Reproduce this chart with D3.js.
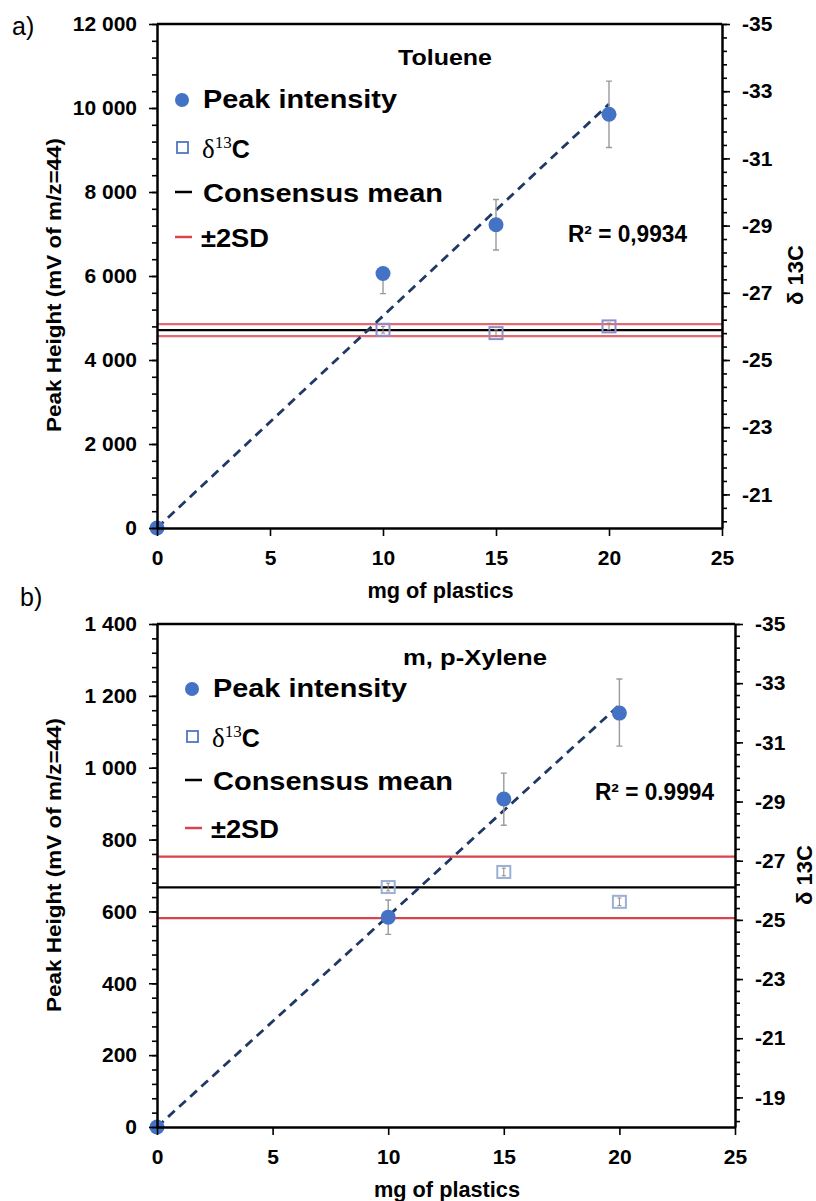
<!DOCTYPE html>
<meta charset="utf-8">
<style>
body { margin: 0; background: #fff; }
svg text { font-family: "Liberation Sans", Arial, sans-serif; fill: #000; }
.axis path.domain { stroke: #000; stroke-width: 2.5px; }
.axis line { stroke: #000; stroke-width: 1.6px; }
.axis text { font-size: 21px; font-weight: bold; }
</style>
<body>
<script src="https://cdn.jsdelivr.net/npm/d3@7"></script>
<script>
// x positions (mg of plastics)
var massMg = [0, 10, 15, 20];
var isoMass = [10, 15, 20];
var xTicks = [0, 5, 10, 15, 20, 25];

// a) Toluene
var toluenePeak = [0, 6060, 7220, 9850];
var toluenePeakErrUp = [0, 0, 600, 790];
var toluenePeakErrDown = [0, 480, 600, 790];
var tolueneD13C = [-25.9, -25.8, -26.0];
var tolueneD13CErr = [0.1, 0.1, 0.1];
var tolueneMean = -25.89;
var tolueneSD2 = 0.18;

// b) m, p-Xylene
var xylenePeak = [0, 584, 913, 1152];
var xylenePeakErrUp = [0, 48, 72, 95];
var xylenePeakErrDown = [0, 48, 73, 92];
var xyleneD13C = [-26.11, -26.62, -25.61];
var xyleneD13CErr = [0.13, 0.13, 0.13];
var xyleneMean = -26.1;
var xyleneSD2 = 1.04;

var fmt = d3.formatLocale({decimal: ",", thousands: " ", grouping: [3], currency: ["", ""]}).format(",d");

var svg = d3.select("body").append("svg")
    .attr("width", 816)
    .attr("height", 1201);

function drawPanel(p) {
  var x = d3.scaleLinear().domain([0, 25]).range([p.left, p.right]);
  var y = d3.scaleLinear().domain([0, p.yMax]).range([p.bottom, p.top]);
  var y2 = d3.scaleLinear().domain([p.y2Min, -35]).range([p.bottom, p.top]);

  var g = svg.append("g");

  // top frame line
  g.append("line")
      .attr("x1", p.left).attr("x2", p.right)
      .attr("y1", p.top).attr("y2", p.top)
      .attr("stroke", "#000").attr("stroke-width", 2.5);

  // consensus mean and +-2SD
  var lines = [
    {v: p.mean - p.sd2, c: p.red},
    {v: p.mean + p.sd2, c: p.red},
    {v: p.mean, c: "#000"}
  ];
  g.selectAll(".hl").data(lines).enter().append("line")
      .attr("x1", p.left).attr("x2", p.right)
      .attr("y1", function(d) { return y2(d.v); })
      .attr("y2", function(d) { return y2(d.v); })
      .attr("stroke", function(d) { return d.c; })
      .attr("stroke-width", 2.2);

  // d13C squares with small error bars
  var iso = p.iso.map(function(v, i) { return {m: isoMass[i], v: v, e: p.isoErr[i]}; });
  var ig = g.selectAll(".iso").data(iso).enter().append("g");
  ig.append("rect")
      .attr("x", function(d) { return x(d.m) - 6.5; })
      .attr("y", function(d) { return y2(d.v) - 6; })
      .attr("width", 13).attr("height", 12)
      .attr("fill", "none")
      .attr("stroke", p.squareColor)
      .attr("stroke-width", 2);
  ig.append("path")
      .attr("d", function(d) {
        var cx = x(d.m), a = y2(d.v - d.e), b = y2(d.v + d.e);
        return "M" + cx + "," + a + "V" + b + "M" + (cx - 2) + "," + a + "H" + (cx + 2) + "M" + (cx - 2) + "," + b + "H" + (cx + 2);
      })
      .attr("stroke", "#888").attr("stroke-width", 1).attr("fill", "none");

  // linear trend through origin, fitted on the peak data
  var sxy = d3.sum(massMg, function(m, i) { return m * p.peak[i]; });
  var sxx = d3.sum(massMg, function(m) { return m * m; });
  var slope = sxy / sxx;
  var xEnd = d3.max(massMg);
  g.append("line")
      .attr("x1", x(0)).attr("y1", y(0))
      .attr("x2", x(xEnd)).attr("y2", y(slope * xEnd))
      .attr("stroke", "#1f3864")
      .attr("stroke-width", 2.8)
      .attr("stroke-dasharray", "9,6");

  // peak intensity error bars
  var pk = massMg.map(function(m, i) {
    return {m: m, v: p.peak[i], up: p.errUp[i], dn: p.errDown[i]};
  });
  g.selectAll(".eb").data(pk.filter(function(d) { return d.up + d.dn > 0; }))
    .enter().append("path")
      .attr("d", function(d) {
        var cx = x(d.m), a = y(d.v + d.up), b = y(d.v - d.dn);
        var s = "M" + cx + "," + a + "V" + b;
        if (d.up > 0) s += "M" + (cx - 3) + "," + a + "H" + (cx + 3);
        if (d.dn > 0) s += "M" + (cx - 3) + "," + b + "H" + (cx + 3);
        return s;
      })
      .attr("stroke", "#9a9a9a").attr("stroke-width", 1.4).attr("fill", "none");

  g.selectAll(".dot").data(pk).enter().append("circle")
      .attr("cx", function(d) { return x(d.m); })
      .attr("cy", function(d) { return y(d.v); })
      .attr("r", 7.5)
      .attr("fill", "#4472c4");

  // axes
  g.append("g").attr("class", "axis")
      .attr("transform", "translate(" + p.left + ",0)")
      .call(d3.axisLeft(y).tickValues(d3.range(0, p.yMax + 1, p.yMinor)).tickSize(5).tickSizeOuter(0).tickFormat(""))
      .select(".domain").remove();
  g.append("g").attr("class", "axis")
      .attr("transform", "translate(" + p.left + ",0)")
      .call(d3.axisLeft(y).tickValues(d3.range(0, p.yMax + 1, p.yStep)).tickSize(8).tickPadding(12).tickSizeOuter(0).tickFormat(fmt));

  var nMinor = Math.floor((p.y2Min + 35) / 0.4 + 0.001);
  g.append("g").attr("class", "axis")
      .attr("transform", "translate(" + p.right + ",0)")
      .call(d3.axisRight(y2).tickValues(d3.range(0, nMinor + 1).map(function(k) { return -35 + k * 0.4; }))
        .tickSize(5).tickSizeOuter(0).tickFormat(""))
      .select(".domain").remove();
  g.append("g").attr("class", "axis")
      .attr("transform", "translate(" + p.right + ",0)")
      .call(d3.axisRight(y2).tickValues(p.y2Ticks).tickSize(8).tickPadding(12).tickSizeOuter(0)
        .tickFormat(function(d) { return String(d); }));

  g.append("g").attr("class", "axis")
      .attr("transform", "translate(0," + p.bottom + ")")
      .call(d3.axisBottom(x).tickValues(xTicks).tickSize(8).tickPadding(14).tickSizeOuter(0));

  // titles
  g.append("text")
      .attr("x", (p.left + p.right) / 2 + 1).attr("y", p.bottom + 70)
      .attr("text-anchor", "middle")
      .attr("font-size", 22).attr("font-weight", "bold")
      .attr("textLength", 146).attr("lengthAdjust", "spacingAndGlyphs")
      .text("mg of plastics");
  g.append("text")
      .attr("transform", "translate(61," + p.yTitle + ") rotate(-90)")
      .attr("text-anchor", "middle")
      .attr("font-size", 21).attr("font-weight", "bold")
      .attr("textLength", 294).attr("lengthAdjust", "spacingAndGlyphs")
      .text("Peak Height (mV of m/z=44)");
  g.append("text")
      .attr("transform", "translate(" + p.y2TitleX + "," + p.y2Title + ") rotate(-90)")
      .attr("text-anchor", "middle")
      .attr("font-size", 22).attr("font-weight", "bold")
      .text("δ 13C");

  g.append("text")
      .attr("x", p.nameX).attr("y", p.nameY)
      .attr("text-anchor", "middle")
      .attr("font-size", 22).attr("font-weight", "bold")
      .attr("textLength", p.nameW).attr("lengthAdjust", "spacingAndGlyphs")
      .text(p.name);

  g.append("text")
      .attr("x", p.r2X).attr("y", p.r2Y)
      .attr("font-size", 23).attr("font-weight", "bold")
      .attr("textLength", 119).attr("lengthAdjust", "spacingAndGlyphs")
      .text(p.r2);

  g.append("text")
      .attr("x", p.labX).attr("y", p.labY)
      .attr("font-size", 25)
      .text(p.label);

  // legend
  var lx = p.legX, ly = p.legY;
  g.append("circle").attr("cx", lx - 21).attr("cy", ly[0] - 8).attr("r", 7).attr("fill", "#4472c4");
  g.append("text").attr("x", lx).attr("y", ly[0])
      .attr("font-size", 25).attr("font-weight", "bold")
      .attr("textLength", 194).attr("lengthAdjust", "spacingAndGlyphs")
      .text("Peak intensity");

  g.append("rect").attr("x", lx - 26).attr("y", ly[1] - 16).attr("width", 11).attr("height", 11)
      .attr("fill", "none").attr("stroke", "#4f77c2").attr("stroke-width", 1.8);
  var dt = g.append("text").attr("x", lx - 1).attr("y", ly[1]);
  dt.append("tspan").attr("font-family", "Liberation Serif, serif").attr("font-size", 27).text("δ");
  dt.append("tspan").attr("font-family", "Liberation Serif, serif").attr("font-size", 17).attr("dy", -10).text("13");
  dt.append("tspan").attr("font-size", 25).attr("font-weight", "bold").attr("dy", 10).text("C");

  g.append("line").attr("x1", lx - 28).attr("x2", lx - 11).attr("y1", ly[2] - 10).attr("y2", ly[2] - 10)
      .attr("stroke", "#000").attr("stroke-width", 2.5);
  g.append("text").attr("x", lx).attr("y", ly[2])
      .attr("font-size", 25).attr("font-weight", "bold")
      .attr("textLength", 240).attr("lengthAdjust", "spacingAndGlyphs")
      .text("Consensus mean");

  g.append("line").attr("x1", lx - 28).attr("x2", lx - 11).attr("y1", ly[3] - 10).attr("y2", ly[3] - 10)
      .attr("stroke", "#d9434a").attr("stroke-width", 2.5);
  g.append("text").attr("x", lx - 2).attr("y", ly[3])
      .attr("font-size", 25).attr("font-weight", "bold")
      .attr("textLength", 68).attr("lengthAdjust", "spacingAndGlyphs")
      .text("±2SD");
}

drawPanel({
  left: 157, right: 722, top: 24, bottom: 528,
  yMax: 12000, yStep: 2000, yMinor: 400,
  y2Min: -20, y2Ticks: [-35, -33, -31, -29, -27, -25, -23, -21],
  peak: toluenePeak, errUp: toluenePeakErrUp, errDown: toluenePeakErrDown,
  iso: tolueneD13C, isoErr: tolueneD13CErr,
  mean: tolueneMean, sd2: tolueneSD2,
  red: "#e36a6f", squareColor: "#8e8fc8",
  yTitle: 285, y2Title: 275, y2TitleX: 803,
  name: "Toluene", nameX: 445, nameY: 65, nameW: 94,
  r2: "R² = 0,9934", r2X: 568, r2Y: 242,
  label: "a)", labX: 12, labY: 35,
  legX: 203, legY: [108, 158, 202, 247]
});

drawPanel({
  left: 157, right: 735, top: 624, bottom: 1127,
  yMax: 1400, yStep: 200, yMinor: 40,
  y2Min: -18, y2Ticks: [-35, -33, -31, -29, -27, -25, -23, -21, -19],
  peak: xylenePeak, errUp: xylenePeakErrUp, errDown: xylenePeakErrDown,
  iso: xyleneD13C, isoErr: xyleneD13CErr,
  mean: xyleneMean, sd2: xyleneSD2,
  red: "#d9434a", squareColor: "#9ab0d6",
  yTitle: 865, y2Title: 875, y2TitleX: 812,
  name: "m, p-Xylene", nameX: 475, nameY: 665, nameW: 144,
  r2: "R² = 0.9994", r2X: 595, r2Y: 800,
  label: "b)", labX: 20, labY: 606,
  legX: 213, legY: [697, 747, 790, 838]
});
</script>
</body>
